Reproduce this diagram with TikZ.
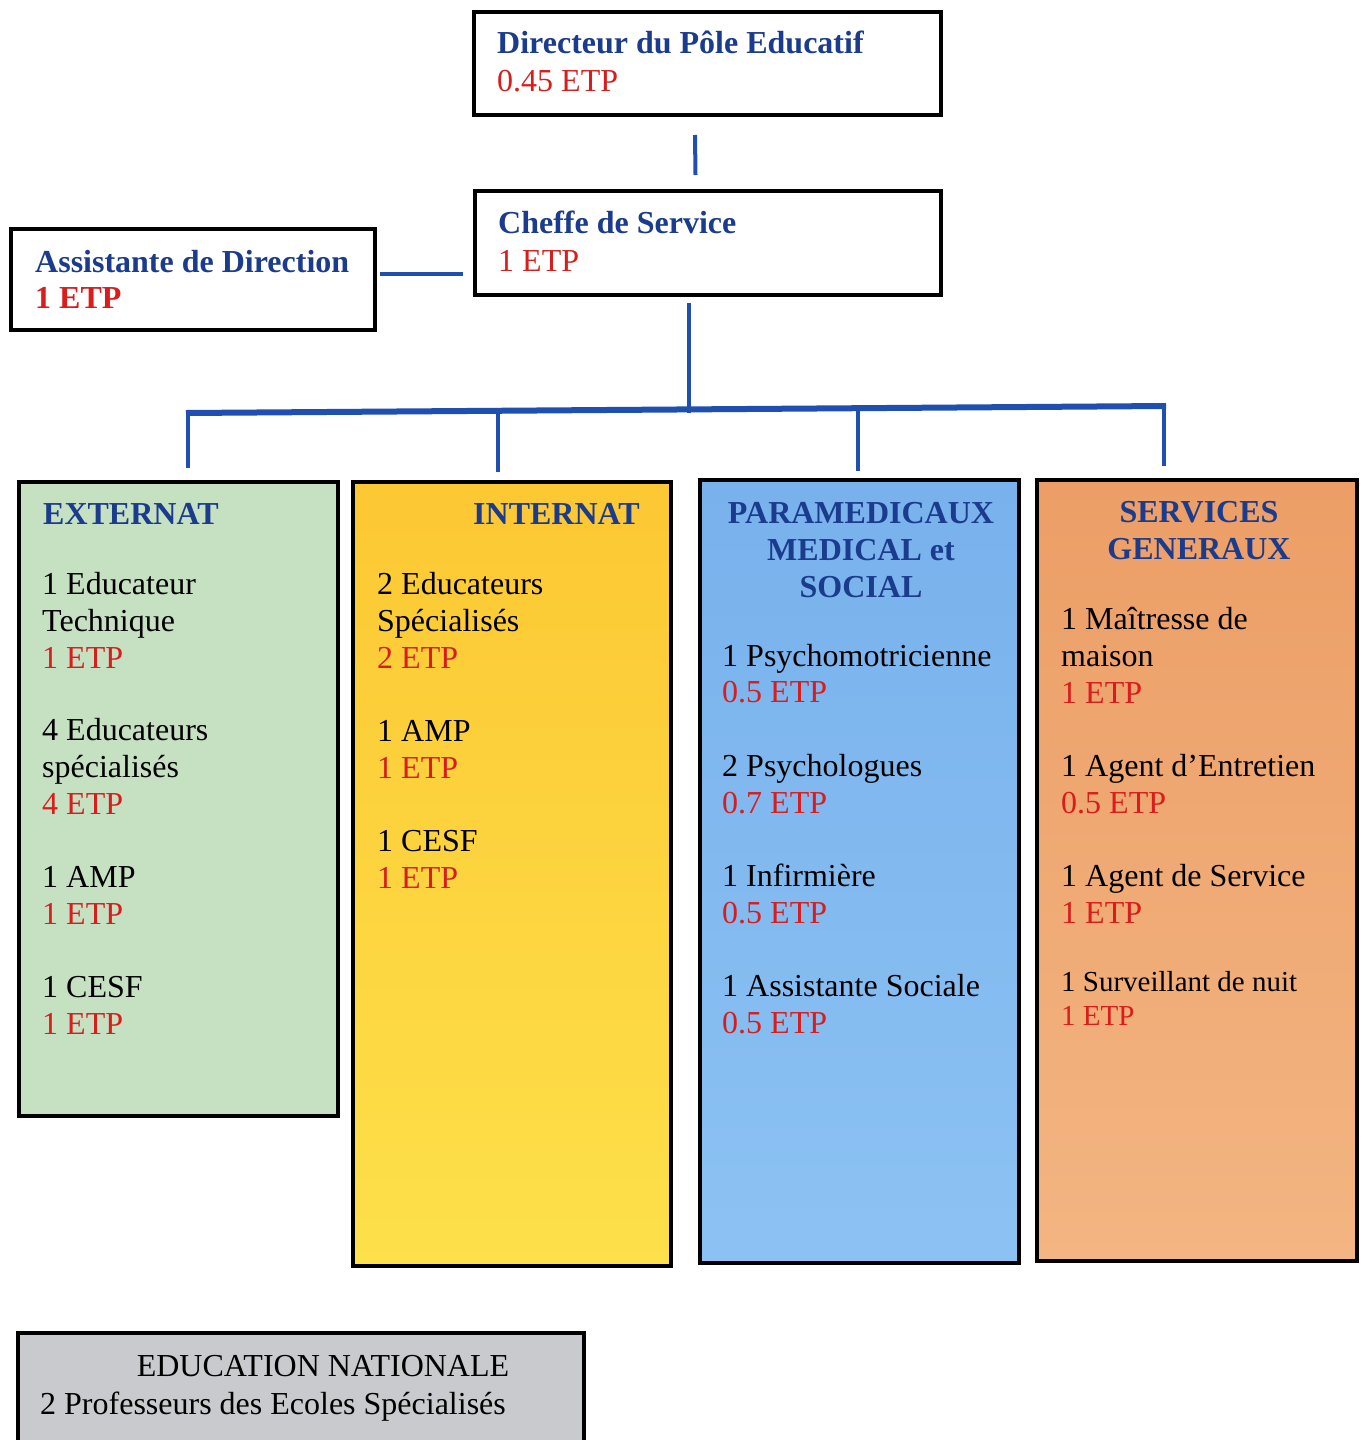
\documentclass[tikz,border=0pt]{standalone}
\usepackage{fontspec}
\setmainfont{Liberation Serif}
\usetikzlibrary{calc}

\definecolor{navy}{HTML}{1B3C8C}
\definecolor{etpred}{HTML}{D91C1C}
\definecolor{linkblue}{HTML}{1F50B0}
\definecolor{extgreen}{HTML}{C6E0C2}
\definecolor{intyellowA}{HTML}{FCC833}
\definecolor{intyellowB}{HTML}{FDE04A}
\definecolor{parablueA}{HTML}{78B1EC}
\definecolor{parablueB}{HTML}{8CC2F3}
\definecolor{servorangeA}{HTML}{EC9E66}
\definecolor{servorangeB}{HTML}{F3B582}
\definecolor{edugray}{HTML}{C9CACD}

\tikzset{
  box/.style={draw=black, line width=4pt, rectangle, inner sep=0pt},
  conn/.style={draw=linkblue, line width=4pt},
  bar/.style={draw=linkblue, line width=6pt},
  lbl/.style={anchor=base west, inner sep=0pt, font=\fontsize{32}{37}\selectfont},
  lblsmall/.style={lbl, font=\fontsize{29}{33}\selectfont},
  hd/.style={lbl, font=\fontsize{32}{37}\selectfont\bfseries, text=navy},
  hdc/.style={hd, anchor=base},
  etp/.style={lbl, text=etpred},
  etpb/.style={lbl, font=\fontsize{32}{37}\selectfont\bfseries, text=etpred},
}

\begin{document}
\begin{tikzpicture}[x=1pt, y=-1pt]
\useasboundingbox (0,0) rectangle (1364,1440);
\fill[white] (0,0) rectangle (1364,1440);

% --- management boxes ---
\node[box, fill=white, minimum width=467pt, minimum height=103pt] (dir) at (707.5,63.5) {};
\node[box, fill=white, minimum width=466pt, minimum height=104pt] (chef) at (708,243) {};
\node[box, fill=white, minimum width=364pt, minimum height=101pt] (asst) at (193,279.5) {};

\node[hd] (dirT) at (497,53) {Directeur du Pôle Educatif};
\node[etp] (dirE) at (497,91) {0.45 ETP};
\node[hd] (chefT) at (498,233) {Cheffe de Service};
\node[etp] (chefE) at (498,271) {1 ETP};
\node[hd] (asstT) at (35,272) {Assistante de Direction};
\node[etpb] (asstE) at (35,308) {1 ETP};

% --- department columns ---
\node[box, fill=extgreen, minimum width=319pt, minimum height=634pt] (ext) at (178.5,799) {};
\node[box, top color=intyellowA, bottom color=intyellowB, minimum width=318pt, minimum height=784pt] (int) at (512,874) {};
\node[box, top color=parablueA, bottom color=parablueB, minimum width=319pt, minimum height=783pt] (para) at (859.5,871.5) {};
\node[box, top color=servorangeA, bottom color=servorangeB, minimum width=320pt, minimum height=781pt] (serv) at (1197,870.5) {};

% --- education nationale ---
\node[box, fill=edugray, minimum width=566pt, minimum height=113pt] (edu) at (301,1389.5) {};

% --- connectors ---
\coordinate (hubL) at (186,413);
\coordinate (hubR) at (1166,406);
\draw[conn] ($(dir.south)+(-12.5,18)$) -- ($(chef.north)+(-12.5,-14)$);
\draw[conn] ($(asst.east)+(3,-5.5)$) -- ($(chef.west)+(-10,31)$);
\draw[bar] (hubL) -- (hubR);
\draw[conn] ($(chef.south)+(-19,6)$) -- ($(chef.south)+(-19,116)$);
\draw[conn] (188,412) -- ($(ext.north)+(9.5,-12)$);
\draw[conn] (498,409) -- ($(int.north)+(-14,-8)$);
\draw[conn] (858,407) -- ($(para.north)+(-1.5,-7)$);
\draw[conn] (1164,406) -- ($(serv.north)+(-33,-12)$);

% --- EXTERNAT ---
\node[hd] (extT) at (43,524) {EXTERNAT};
\node[lbl] (ext1a) at (42,594) {1 Educateur};
\node[lbl] (ext1b) at (42,631) {Technique};
\node[etp] (ext1c) at (42,668) {1 ETP};
\node[lbl] (ext2a) at (42,740) {4 Educateurs};
\node[lbl] (ext2b) at (42,777) {spécialisés};
\node[etp] (ext2c) at (42,814) {4 ETP};
\node[lbl] (ext3a) at (42,887) {1 AMP};
\node[etp] (ext3b) at (42,924) {1 ETP};
\node[lbl] (ext4a) at (42,997) {1 CESF};
\node[etp] (ext4b) at (42,1034) {1 ETP};

% --- INTERNAT ---
\node[hd] (intT) at (473,524) {INTERNAT};
\node[lbl] (int1a) at (377,594) {2 Educateurs};
\node[lbl] (int1b) at (377,631) {Spécialisés};
\node[etp] (int1c) at (377,668) {2 ETP};
\node[lbl] (int2a) at (377,741) {1 AMP};
\node[etp] (int2b) at (377,778) {1 ETP};
\node[lbl] (int3a) at (377,851) {1 CESF};
\node[etp] (int3b) at (377,888) {1 ETP};

% --- PARAMEDICAUX ---
\node[hdc] (paraT1) at (861,523) {PARAMEDICAUX};
\node[hdc] (paraT2) at (861,560) {MEDICAL et};
\node[hdc] (paraT3) at (861,597) {SOCIAL};
\node[lbl] (para1a) at (722,666) {1 Psychomotricienne};
\node[etp] (para1b) at (722,702) {0.5 ETP};
\node[lbl] (para2a) at (722,776) {2 Psychologues};
\node[etp] (para2b) at (722,813) {0.7 ETP};
\node[lbl] (para3a) at (722,886) {1 Infirmière};
\node[etp] (para3b) at (722,923) {0.5 ETP};
\node[lbl] (para4a) at (722,996) {1 Assistante Sociale};
\node[etp] (para4b) at (722,1033) {0.5 ETP};

% --- SERVICES GENERAUX ---
\node[hdc] (servT1) at (1199,522) {SERVICES};
\node[hdc] (servT2) at (1199,559) {GENERAUX};
\node[lbl] (serv1a) at (1061,629) {1 Maîtresse de};
\node[lbl] (serv1b) at (1061,666) {maison};
\node[etp] (serv1c) at (1061,703) {1 ETP};
\node[lbl] (serv2a) at (1061,776) {1 Agent d’Entretien};
\node[etp] (serv2b) at (1061,813) {0.5 ETP};
\node[lbl] (serv3a) at (1061,886) {1 Agent de Service};
\node[etp] (serv3b) at (1061,923) {1 ETP};
\node[lblsmall] (serv4a) at (1061,991) {1 Surveillant de nuit};
\node[lblsmall, text=etpred] (serv4b) at (1061,1025) {1 ETP};

% --- education nationale text ---
\node[lbl, anchor=base] (eduT) at (323,1376) {EDUCATION NATIONALE};
\node[lbl] (eduS) at (40,1414) {2 Professeurs des Ecoles Spécialisés};
\end{tikzpicture}
\end{document}
